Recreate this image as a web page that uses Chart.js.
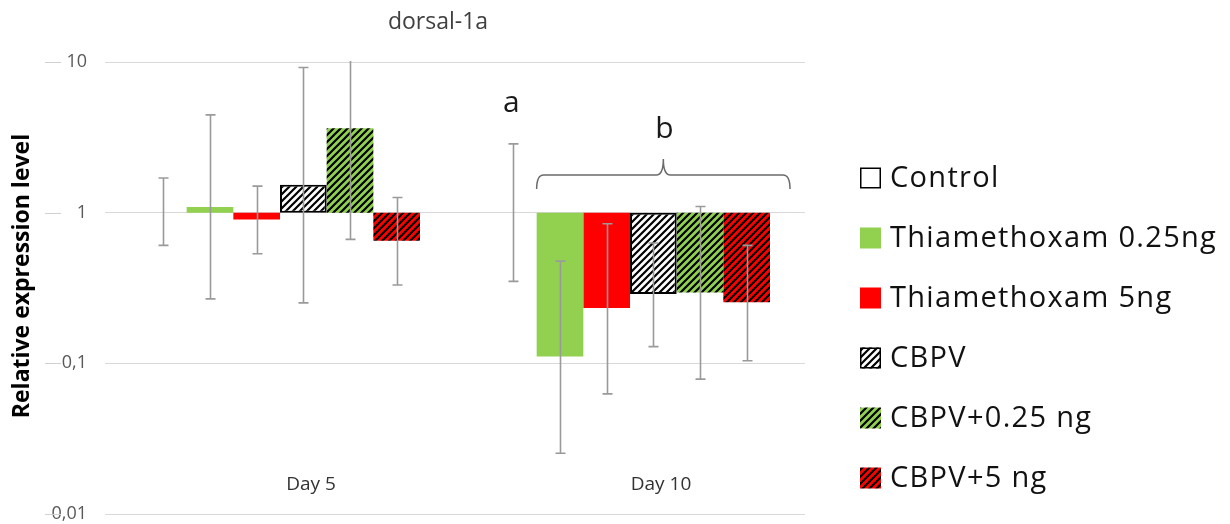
<!DOCTYPE html>
<html>
<head>
<meta charset="utf-8">
<script src="https://cdn.jsdelivr.net/npm/chart.js@4/dist/chart.umd.min.js"></script>
<style>
  html, body { margin: 0; padding: 0; background: #ffffff; }
  #wrap { position: relative; width: 1230px; height: 524px; }
</style>
</head>
<body>
<div id="wrap"><canvas id="c" width="1230" height="524"></canvas></div>
<script>
// ---------------- data ----------------
const categories = ['Day 5', 'Day 10'];
const seriesNames = ['Control', 'Thiamethoxam 0.25ng', 'Thiamethoxam 5ng', 'CBPV', 'CBPV+0.25 ng', 'CBPV+5 ng'];
const controlValues   = [1.00, 1.00];
const thia025Values   = [1.09, 0.111];
const thia5Values     = [0.90, 0.233];
const cbpvValues      = [1.53, 0.288];
const cbpv025Values   = [3.63, 0.295];
const cbpv5Values     = [0.652, 0.254];
// error bars: [low, high] per category
const controlErr = [[0.607, 1.70], [0.35, 2.86]];
const thia025Err = [[0.268, 4.46], [0.0253, 0.477]];
const thia5Err   = [[0.534, 1.50], [0.0627, 0.845]];
const cbpvErr    = [[0.252, 9.2], [0.129, 0.629]];
const cbpv025Err = [[0.665, 12.0], [0.0785, 1.10]];
const cbpv5Err   = [[0.331, 1.26], [0.104, 0.607]];
const yTickValues = [0.01, 0.1, 1, 10];
const yTickLabels = ['0,01', '0,1', '1', '10'];
const chartTitle = 'dorsal-1a';
const yTitle = 'Relative expression level';
const annotA = 'a';
const annotB = 'b';

// ---------------- styles ----------------
const FONT = '"Open Sans", Lato, sans-serif';
const GREEN = '#92D050';
const RED = '#FF0000';
function hatch(bg) {
  const s = 7;
  const cv = document.createElement('canvas');
  cv.width = s; cv.height = s;
  const g = cv.getContext('2d');
  g.fillStyle = bg; g.fillRect(0, 0, s, s);
  g.strokeStyle = '#000000'; g.lineWidth = 2.2;
  g.beginPath();
  g.moveTo(-1, s + 1); g.lineTo(s + 1, -1);
  g.moveTo(-1, 1); g.lineTo(1, -1);
  g.moveTo(s - 1, s + 1); g.lineTo(s + 1, s - 1);
  g.stroke();
  return g.createPattern(cv, 'repeat');
}
const hatchWhite = hatch('#ffffff');
const hatchGreen = hatch(GREEN);
const hatchRed = hatch(RED);

const valuesList = [controlValues, thia025Values, thia5Values, cbpvValues, cbpv025Values, cbpv5Values];
const errList = [controlErr, thia025Err, thia5Err, cbpvErr, cbpv025Err, cbpv5Err];
const fills = ['#ffffff', GREEN, RED, hatchWhite, hatchGreen, hatchRed];
const borders = [0, 0, 0, 2, 0, 0];

const datasets = seriesNames.map((name, i) => ({
  label: name,
  data: valuesList[i].map(v => [1, v]),
  errors: errList[i],
  backgroundColor: fills[i],
  borderColor: '#000000',
  borderWidth: borders[i],
  borderSkipped: false,
  barPercentage: 1.0,
  categoryPercentage: 0.8
}));

// ---------------- plugins ----------------
const errorBarPlugin = {
  id: 'errorBars',
  afterDatasetsDraw(chart) {
    const ctx = chart.ctx;
    const y = chart.scales.y;
    const area = chart.chartArea;
    ctx.save();
    ctx.beginPath();
    ctx.rect(area.left, area.top - 1, area.right - area.left, area.bottom - area.top + 2);
    ctx.clip();
    ctx.strokeStyle = '#9a9a9a';
    ctx.lineWidth = 1.6;
    chart.data.datasets.forEach((ds, di) => {
      const meta = chart.getDatasetMeta(di);
      meta.data.forEach((el, i) => {
        const e = ds.errors[i];
        if (!e) return;
        const x = Math.round(el.x) + 0.5;
        const yl = y.getPixelForValue(e[0]);
        const yh = y.getPixelForValue(e[1]);
        ctx.beginPath();
        ctx.moveTo(x, yl); ctx.lineTo(x, yh);
        ctx.moveTo(x - 5, yl); ctx.lineTo(x + 5, yl);
        ctx.moveTo(x - 5, yh); ctx.lineTo(x + 5, yh);
        ctx.stroke();
      });
    });
    ctx.restore();
  }
};

const extrasPlugin = {
  id: 'extras',
  afterDraw(chart) {
    const ctx = chart.ctx;
    const x = chart.scales.x;
    const y = chart.scales.y;
    const area = chart.chartArea;
    ctx.save();
    // chart title
    ctx.fillStyle = '#404040';
    ctx.font = '23px ' + FONT;
    ctx.textAlign = 'center';
    ctx.textBaseline = 'middle';
    ctx.fillText(chartTitle, (area.left + area.right) / 2 - 17, 22);
    // y axis title
    ctx.save();
    ctx.translate(22, 276);
    ctx.rotate(-Math.PI / 2);
    ctx.fillStyle = '#000000';
    ctx.font = 'bold 23px ' + FONT;
    ctx.fillText(yTitle, 0, 0);
    ctx.restore();
    // category labels
    ctx.fillStyle = '#333333';
    ctx.font = '19px ' + FONT;
    categories.forEach((c, i) => {
      ctx.fillText(c, x.getPixelForValue(i) + 31, 485);
    });
    // small dashes left of the y tick labels
    ctx.strokeStyle = '#d0d0d0';
    ctx.lineWidth = 1;
    yTickValues.forEach(v => {
      const py = Math.round(y.getPixelForValue(v)) + 0.5;
      ctx.beginPath(); ctx.moveTo(45, py); ctx.lineTo(61, py); ctx.stroke();
    });
    // annotation letters
    const metaCtl = chart.getDatasetMeta(0).data[1];
    const metaFirst = chart.getDatasetMeta(1).data[1];
    const metaLast = chart.getDatasetMeta(5).data[1];
    ctx.fillStyle = '#1a1a1a';
    ctx.font = '30px ' + FONT;
    ctx.textAlign = 'center';
    ctx.textBaseline = 'alphabetic';
    ctx.fillText(annotA, metaCtl.x - 2, 112);
    const bx0 = metaFirst.x - metaFirst.width / 2;
    const bx1 = metaLast.x + metaLast.width / 2 + 20;
    const bm = (bx0 + bx1) / 2;
    ctx.fillText(annotB, bm + 1, 138);
    // brace
    ctx.strokeStyle = '#6b6b6b';
    ctx.lineWidth = 1.5;
    const yb = 189, yh = 175, yt = 159, r = 7;
    ctx.beginPath();
    ctx.moveTo(bx0, yb);
    ctx.quadraticCurveTo(bx0, yh, bx0 + r, yh);
    ctx.lineTo(bm - r, yh);
    ctx.quadraticCurveTo(bm, yh, bm, yt);
    ctx.quadraticCurveTo(bm, yh, bm + r, yh);
    ctx.lineTo(bx1 - r, yh);
    ctx.quadraticCurveTo(bx1, yh, bx1, yb);
    ctx.stroke();
    // legend
    const lx = 860, ly0 = 178, step = 60, box = 21;
    ctx.textAlign = 'left';
    ctx.textBaseline = 'middle';
    ctx.font = '29px ' + FONT;
    if ('letterSpacing' in ctx) ctx.letterSpacing = '1.3px';
    chart.data.datasets.forEach((ds, i) => {
      const cy = ly0 + i * step;
      ctx.fillStyle = ds.backgroundColor;
      ctx.fillRect(lx, cy - box / 2, box, box);
      if (i === 0 || i === 3) {
        ctx.strokeStyle = '#000000';
        ctx.lineWidth = 1.5;
        ctx.strokeRect(lx + 0.75, cy - box / 2 + 0.75, box - 1.5, box - 1.5);
      }
      ctx.fillStyle = '#111111';
      ctx.fillText(ds.label, lx + 30, cy + 1);
    });
    ctx.restore();
  }
};

// ---------------- chart ----------------
new Chart(document.getElementById('c'), {
  type: 'bar',
  data: { labels: categories, datasets },
  plugins: [errorBarPlugin, extrasPlugin],
  options: {
    responsive: false,
    animation: false,
    layout: { padding: { left: 0, right: 425, top: 62, bottom: 10 } },
    plugins: {
      legend: { display: false },
      tooltip: { enabled: false },
      title: { display: false }
    },
    scales: {
      x: {
        type: 'category',
        display: false
      },
      y: {
        type: 'logarithmic',
        min: 0.01,
        max: 10,
        border: { display: false },
        grid: { color: '#d9d9d9', lineWidth: 1, drawTicks: false },
        afterBuildTicks(s) { s.ticks = yTickValues.map(v => ({ value: v })); },
        ticks: {
          color: '#595959',
          font: { family: FONT, size: 18 },
          padding: 18,
          callback(v) { const k = yTickValues.indexOf(v); return k >= 0 ? yTickLabels[k] : ''; }
        },
        afterFit(s) { s.width = 105; s.paddingTop = 0; s.paddingBottom = 0; }
      }
    }
  }
});
</script>
</body>
</html>
